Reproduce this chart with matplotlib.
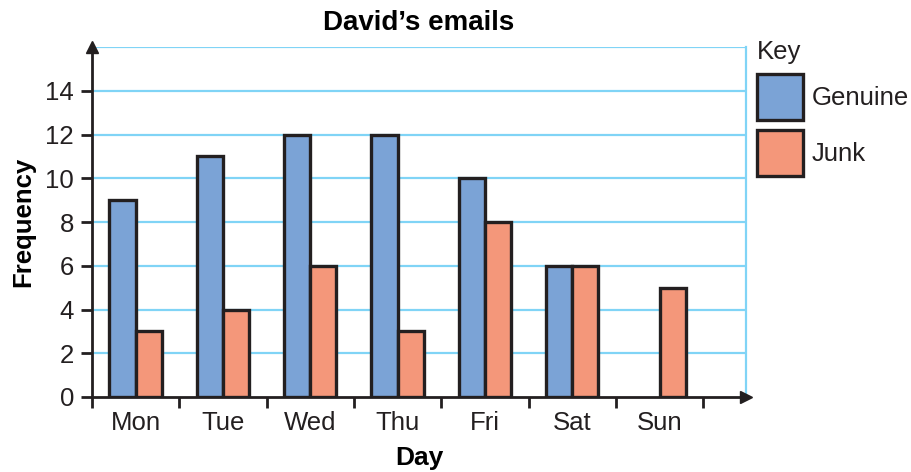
import numpy as np
import matplotlib
matplotlib.use("Agg")
import matplotlib.pyplot as plt
from matplotlib.patches import Patch

days = ["Mon", "Tue", "Wed", "Thu", "Fri", "Sat", "Sun"]
genuine = [9, 11, 12, 12, 10, 6, 0]
junk = [3, 4, 6, 3, 8, 6, 5]
yticks = [0, 2, 4, 6, 8, 10, 12, 14]

plt.rcParams['font.family'] = ['Liberation Sans', 'DejaVu Sans']

BLUE = "#7ba3d6"
ORANGE = "#f4977a"
EDGE = "#231f20"
GRID = "#80d4f6"
FS = 18.5

fig = plt.figure(figsize=(9.12, 4.72), dpi=100)
ax = fig.add_axes([92/912, 1-397/472, (746-92)/912, (397-47)/472])

x = np.arange(len(days)) + 0.5
w = 0.3
g = np.array(genuine, dtype=float)
g_plot = np.where(g > 0, g, np.nan)
ax.bar(x - w/2, g_plot, width=w, color=BLUE, edgecolor=EDGE, linewidth=2.4, zorder=3, label="Genuine")
ax.bar(x + w/2, junk, width=w, color=ORANGE, edgecolor=EDGE, linewidth=2.4, zorder=3, label="Junk")

ax.set_xlim(0, 7.49)
ax.set_ylim(0, 16)

for yv in range(2, 17, 2):
    ax.axhline(yv, color=GRID, linewidth=1.6, zorder=1)

ax.spines['top'].set_visible(False)
ax.spines['right'].set_color(GRID)
ax.spines['right'].set_linewidth(1.6)
ax.spines['left'].set_color(EDGE)
ax.spines['left'].set_linewidth(2)
ax.spines['bottom'].set_color(EDGE)
ax.spines['bottom'].set_linewidth(2)
ax.spines['left'].set_zorder(4)
ax.spines['bottom'].set_zorder(4)

# arrows
ax.plot(0, 1, marker='^', markersize=9, color=EDGE, transform=ax.transAxes, clip_on=False, zorder=5)
ax.plot(1, 0, marker='>', markersize=9, color=EDGE, transform=ax.transAxes, clip_on=False, zorder=5)

ax.set_yticks(yticks)
ax.set_yticklabels([str(v) for v in yticks])
ax.set_xticks(np.arange(0, 8))
ax.set_xticklabels([])
ax.set_xticks(x, minor=True)
ax.set_xticklabels(days, minor=True)
ax.tick_params(axis='x', which='major', length=8, width=2, color=EDGE, direction='out')
ax.tick_params(axis='x', which='minor', length=0, pad=10, labelsize=FS, labelcolor=EDGE)
ax.tick_params(axis='y', length=8, width=2, color=EDGE, direction='out', labelsize=FS, labelcolor=EDGE, pad=5)

ax.set_title("David\u2019s emails", fontsize=20, fontweight='bold', pad=12)
ax.set_xlabel("Day", fontsize=19, fontweight='bold', labelpad=8)
ax.set_ylabel("Frequency", fontsize=18.5, fontweight='bold', labelpad=7)

handles = [Patch(facecolor=BLUE, edgecolor=EDGE, linewidth=2.4), Patch(facecolor=ORANGE, edgecolor=EDGE, linewidth=2.4)]
leg = ax.legend(handles, ["Genuine", "Junk"], title="Key", loc='upper left',
                bbox_to_anchor=(757/912, 1-40/472), bbox_transform=fig.transFigure,
                frameon=False, fontsize=FS, title_fontsize=FS,
                handlelength=1.78, handleheight=2.35, handletextpad=0.35, labelspacing=0.4,
                alignment='left', borderaxespad=0, borderpad=0)
for t in leg.get_texts():
    t.set_color(EDGE)
leg.get_title().set_color(EDGE)

fig.savefig("out.png", dpi=100)
